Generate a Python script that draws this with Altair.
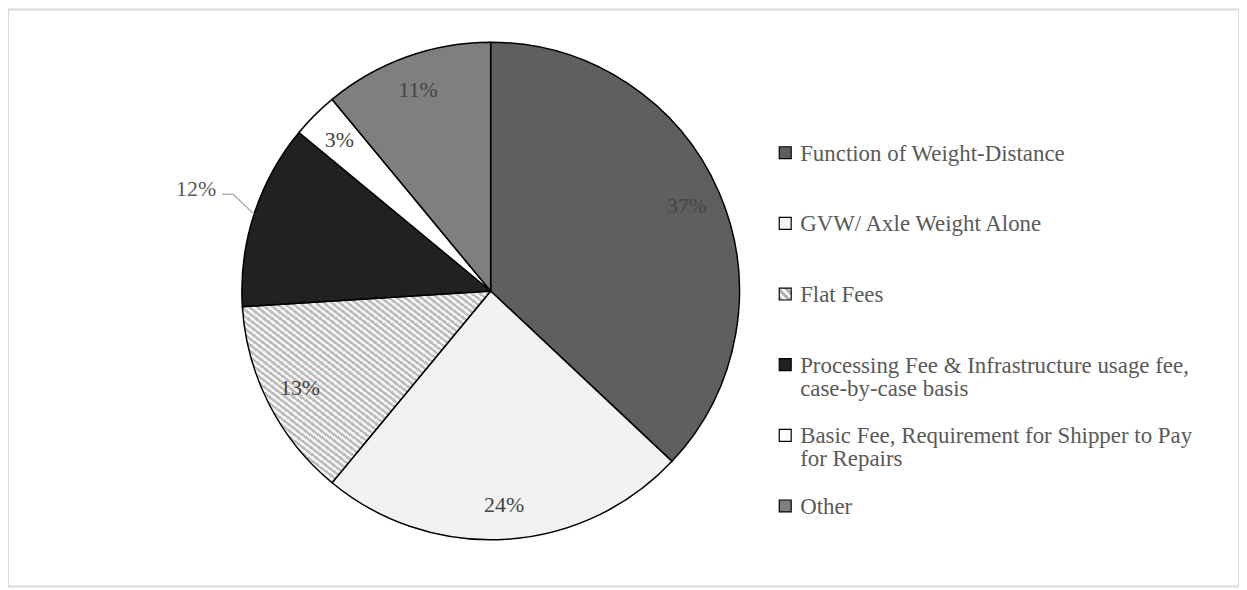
import altair as alt
import pandas as pd

# ---- data ----
categories = [
    "Function of Weight-Distance",
    "GVW/ Axle Weight Alone",
    "Flat Fees",
    "Processing Fee & Infrastructure usage fee, case-by-case basis",
    "Basic Fee, Requirement for Shipper to Pay for Repairs",
    "Other",
]
legend_text = [
    "Function of Weight-Distance",
    "GVW/ Axle Weight Alone",
    "Flat Fees",
    "Processing Fee & Infrastructure usage fee,\ncase-by-case basis",
    "Basic Fee, Requirement for Shipper to Pay\nfor Repairs",
    "Other",
]
shares = [37, 24, 13, 12, 3, 11]
fills = ["#5f5f5f", "#f2f2f2", "#dadada", "#212121", "#ffffff", "#7f7f7f"]

df = pd.DataFrame({
    "cat": categories,
    "legend_text": legend_text,
    "pct": shares,
    "idx": list(range(len(categories))),
})

# ---- styling helpers ----
FONT = "'Times New Roman', 'Liberation Serif', 'DejaVu Serif', serif"
CX, CY, R = 485, 283, 250


def stripes(n, c1, c2):
    stops = []
    for i in range(n):
        a, b, c = i / n, (i + 0.5) / n, (i + 1) / n
        stops += [
            {"offset": a, "color": c1},
            {"offset": b, "color": c1},
            {"offset": b, "color": c2},
            {"offset": c, "color": c2},
        ]
    return {"gradient": "linear", "x1": 0, "y1": 1, "x2": 1, "y2": 0, "stops": stops}


hatch_big = stripes(62, "#bdbdbd", "#f4f4f4")
hatch_small = stripes(3, "#b0b0b0", "#f4f4f4")
is_flat = "datum.cat === 'Flat Fees'"

fill_scale = alt.Scale(domain=categories, range=fills)

base = alt.Chart(df)

pie = base.mark_arc(stroke="black", strokeWidth=1.5, radius=R).encode(
    theta=alt.Theta("pct:Q", stack=True),
    order=alt.Order("idx:Q"),
    fill=alt.condition(is_flat, alt.value(hatch_big),
                       alt.Fill("cat:N", scale=fill_scale, legend=None)),
    x=alt.value(CX),
    y=alt.value(CY),
)

labels = base.transform_calculate(
    lbl="datum.idx === 3 ? '' : datum.pct + '%'"
).mark_text(radius=215, font=FONT, fontSize=22, color="#454545").encode(
    theta=alt.Theta("pct:Q", stack=True),
    order=alt.Order("idx:Q"),
    text="lbl:N",
    x=alt.value(CX),
    y=alt.value(CY),
)

leader = base.transform_joinaggregate(total="sum(pct)").transform_window(
    cum="sum(pct)", sort=[alt.SortField("idx")]
).transform_filter("datum.idx === 3").transform_calculate(
    mid="(datum.cum - datum.pct / 2) / datum.total * 2 * PI",
    p0x=f"{CX} + {R} * sin(datum.mid)",
    p0y=f"{CY} - {R} * cos(datum.mid)",
    p1x="datum.p0x - 21",
    p1y="datum.p0y - 20",
    p2x="datum.p1x - 11",
    lbl="datum.pct + '%'",
)

seg1 = leader.mark_rule(color="#a6a6a6", strokeWidth=1.3).encode(
    x=alt.X("p0x:Q", scale=None, axis=None),
    y=alt.Y("p0y:Q", scale=None, axis=None),
    x2="p1x:Q",
    y2="p1y:Q",
)
seg2 = leader.mark_rule(color="#a6a6a6", strokeWidth=1.3).encode(
    x=alt.X("p1x:Q", scale=None, axis=None),
    y=alt.Y("p1y:Q", scale=None, axis=None),
    x2="p2x:Q",
    y2="p1y:Q",
)
lab12 = leader.mark_text(align="right", baseline="middle", dx=-6, dy=-5,
                         font=FONT, fontSize=22, color="#595959").encode(
    x=alt.X("p2x:Q", scale=None, axis=None),
    y=alt.Y("p1y:Q", scale=None, axis=None),
    text="lbl:N",
)
leader_layer = alt.layer(seg1, seg2, lab12)

leg_y = alt.Y("cat:N", scale=alt.Scale(type="point", domain=categories,
                                       range=[144, 499], padding=0), axis=None)

leg_sq = base.mark_square(size=144, stroke="black", strokeWidth=1.2, opacity=1).encode(
    x=alt.value(781),
    y=leg_y,
    fill=alt.condition(is_flat, alt.value(hatch_small),
                       alt.Fill("cat:N", scale=fill_scale, legend=None)),
)
leg_txt = base.mark_text(align="left", baseline="alphabetic", dy=8, lineBreak="\n",
                         lineHeight=23, font=FONT, fontSize=23, color="#595959").encode(
    x=alt.value(796),
    y=leg_y,
    text="legend_text:N",
)
legend_layer = alt.layer(leg_sq, leg_txt)

chart = alt.layer(pie, labels, leader_layer, legend_layer).resolve_scale(
    x="independent", y="independent"
).properties(
    width=1237, height=580, padding=0, autosize="none"
).configure_view(stroke="#d9d9d9", strokeWidth=2)

chart.save("out.html", embed_options={"renderer": "svg", "actions": False})
